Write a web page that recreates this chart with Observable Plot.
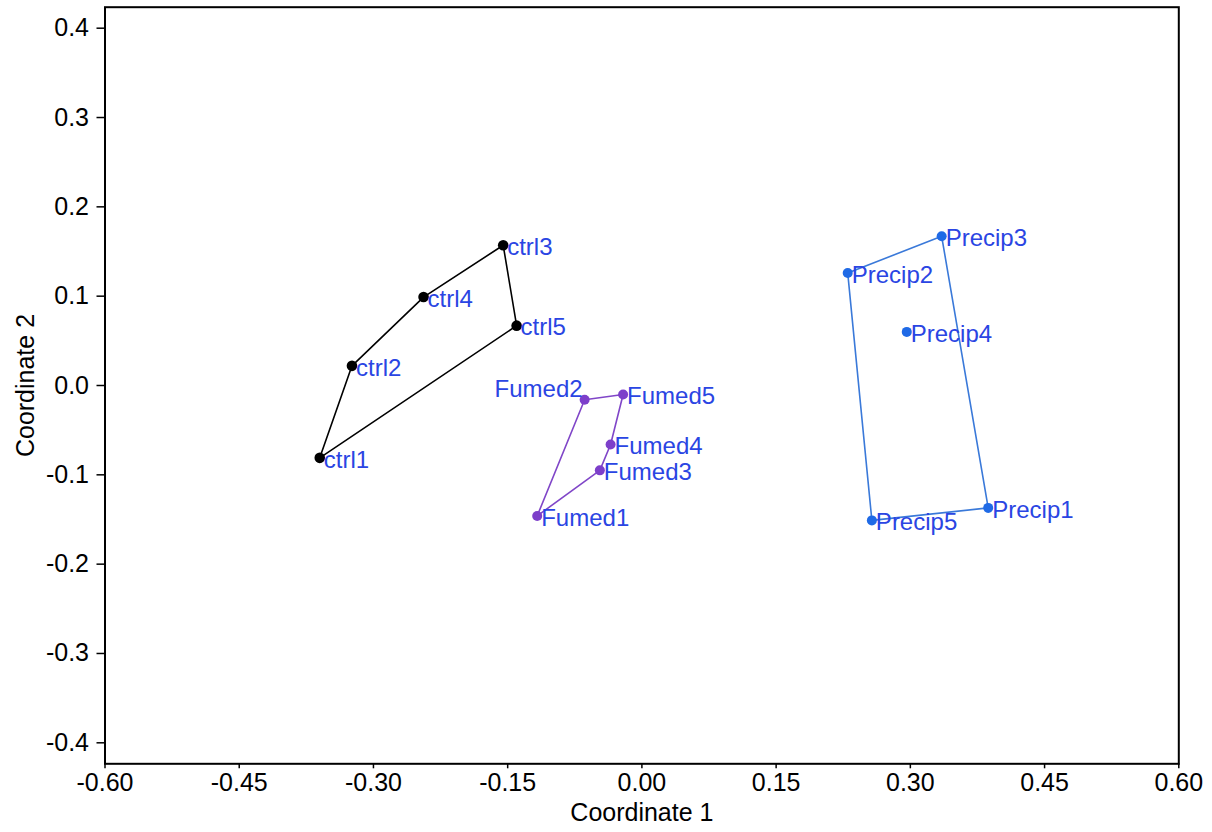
<!DOCTYPE html>
<html><head><meta charset="utf-8">
<script src="https://cdn.jsdelivr.net/npm/d3@7"></script>
<script src="https://cdn.jsdelivr.net/npm/@observablehq/plot@0.6"></script>
<style>body{margin:0;background:#fff;}</style>
</head><body><div id="chart"></div>
<script>
// ---- data ----
const ctrlNames = ["ctrl1", "ctrl2", "ctrl3", "ctrl4", "ctrl5"];
const ctrlX = [-0.360, -0.324, -0.155, -0.244, -0.140];
const ctrlY = [-0.081, 0.022, 0.157, 0.099, 0.067];
const ctrlHull = ["ctrl1", "ctrl2", "ctrl4", "ctrl3", "ctrl5", "ctrl1"];

const fumedNames = ["Fumed1", "Fumed2", "Fumed3", "Fumed4", "Fumed5"];
const fumedX = [-0.117, -0.064, -0.047, -0.035, -0.021];
const fumedY = [-0.146, -0.016, -0.095, -0.066, -0.010];
const fumedHull = ["Fumed1", "Fumed2", "Fumed5", "Fumed4", "Fumed3", "Fumed1"];

const precipNames = ["Precip1", "Precip2", "Precip3", "Precip4", "Precip5"];
const precipX = [0.387, 0.230, 0.335, 0.296, 0.257];
const precipY = [-0.137, 0.126, 0.167, 0.060, -0.151];
const precipHull = ["Precip2", "Precip3", "Precip1", "Precip5", "Precip2"];

const xTicks = [-0.60, -0.45, -0.30, -0.15, 0.00, 0.15, 0.30, 0.45, 0.60];
const yTicks = [-0.4, -0.3, -0.2, -0.1, 0.0, 0.1, 0.2, 0.3, 0.4];
const xTitle = "Coordinate 1";
const yTitle = "Coordinate 2";
const leftLabels = ["Fumed2"];

// ---- build tables ----
const groups = [
  {names: ctrlNames, xs: ctrlX, ys: ctrlY, hull: ctrlHull, dot: "#000000", line: "#000000", r: 5.3},
  {names: fumedNames, xs: fumedX, ys: fumedY, hull: fumedHull, dot: "#7d3fca", line: "#8046c8", r: 5},
  {names: precipNames, xs: precipX, ys: precipY, hull: precipHull, dot: "#1f6ae6", line: "#3a79d9", r: 5}
];
const fmt = (digits) => (d) => (Math.abs(d) < 1e-9 ? 0 : d).toFixed(digits);
const FS = 25;
const LFS = 24;

const marks = [];
for (const g of groups) {
  const pts = g.names.map((n, i) => ({name: n, x: g.xs[i], y: g.ys[i]}));
  const byName = new Map(pts.map(p => [p.name, p]));
  const hullPts = g.hull.map(n => byName.get(n));
  marks.push(Plot.line(hullPts, {x: "x", y: "y", stroke: g.line, strokeWidth: 1.6, curve: "linear"}));
  marks.push(Plot.dot(pts, {x: "x", y: "y", r: g.r, fill: g.dot, stroke: "none"}));
  const right = pts.filter(p => !leftLabels.includes(p.name));
  const left = pts.filter(p => leftLabels.includes(p.name));
  marks.push(Plot.text(right, {x: "x", y: "y", text: "name", textAnchor: "start", dx: 4, dy: 2, fill: "#2a45e3", fontSize: LFS}));
  marks.push(Plot.text(left, {x: "x", y: "y", text: "name", textAnchor: "end", dx: -2, dy: -10, fill: "#2a45e3", fontSize: LFS}));
}

const chart = Plot.plot({
  width: 1212,
  height: 832,
  marginLeft: 104.5,
  marginRight: 33.7,
  marginTop: 6.7,
  marginBottom: 68.7,
  style: {fontFamily: "'Liberation Sans', Arial, Helvetica, sans-serif", fontSize: FS + "px", color: "#000", background: "#fff"},
  x: {domain: [-0.6, 0.6], label: xTitle},
  y: {domain: [-0.4235, 0.4235], label: yTitle},
  marks: [
    Plot.axisX({ticks: xTicks, tickFormat: fmt(2), tickSize: 5, tickPadding: 4, strokeWidth: 1.5,
      label: xTitle, labelArrow: "none", labelAnchor: "center", labelOffset: 57, fontSize: FS}),
    Plot.axisY({ticks: yTicks, tickFormat: fmt(1), tickSize: 8, tickPadding: 8, strokeWidth: 1.5,
      label: yTitle, labelArrow: "none", labelAnchor: "center", labelOffset: 89, fontSize: FS}),
    ...marks,
    Plot.frame({stroke: "#000", strokeWidth: 2})
  ]
});
document.getElementById("chart").appendChild(chart);
</script>
</body></html>
